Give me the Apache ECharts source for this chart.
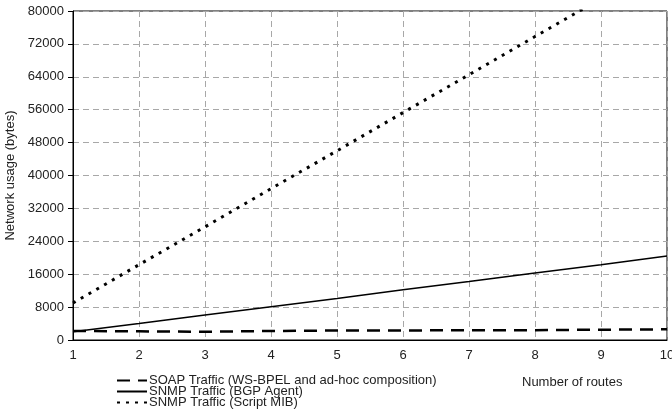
<!DOCTYPE html>
<html>
<head>
<meta charset="utf-8">
<script src="https://cdn.jsdelivr.net/npm/echarts@6/dist/echarts.min.js"></script>
<style>
  html, body { margin: 0; padding: 0; background: #fff; }
  #chart { width: 672px; height: 412px; }
</style>
</head>
<body>
<div id="chart"></div>
<script>
// Number of routes on the x axis
const routes = [1, 2, 3, 4, 5, 6, 7, 8, 9, 10];
// Network usage in bytes per traffic type
const soapTraffic = [2200, 2100, 2000, 2200, 2300, 2300, 2400, 2400, 2500, 2600];
const snmpBgpTraffic = [2000, 4000, 6100, 8100, 10100, 12200, 14200, 16300, 18300, 20400];
const snmpScriptTraffic = [9000, 18300, 27500, 36800, 46000, 55300, 64500, 73800, 83000, 92300];

const seriesNames = [
  'SOAP Traffic (WS-BPEL and ad-hoc composition)',
  'SNMP Traffic (BGP Agent)',
  'SNMP Traffic (Script MIB)'
];

const pairs = vals => routes.map((r, i) => [r, vals[i]]);
const font = 'Liberation Sans, Arial, sans-serif';
const fontSize = 13;
const textColor = '#222';

// one legend row per series, stacked under the x axis
const legendRows = seriesNames.map((name, i) => ({
  orient: 'vertical',
  left: 116, top: 374 + i * 11,
  padding: 0,
  itemWidth: 30, itemHeight: 8, itemGap: 0,
  itemStyle: { opacity: 0 },
  textStyle: { fontFamily: font, fontSize: fontSize, color: textColor, padding: [0, 0, 0, -3] },
  data: [name]
}));

const chart = echarts.init(document.getElementById('chart'), null, { renderer: 'canvas' });
chart.setOption({
  animation: false,
  backgroundColor: '#fff',
  grid: {
    left: 73, right: 5, top: 11, bottom: 72,
    outerBoundsMode: 'none',
    containLabel: false,
    show: true, borderColor: '#000', borderWidth: 1
  },
  legend: legendRows,
  xAxis: {
    type: 'value', min: 1, max: 10, interval: 1,
    axisLine: { show: true, lineStyle: { color: '#000', width: 1 } },
    axisTick: { show: false },
    axisLabel: { fontFamily: font, fontSize: fontSize, color: textColor, margin: 9 },
    splitLine: { show: true, lineStyle: { color: '#a8a8a8', type: [6, 4], width: 1 } }
  },
  yAxis: {
    type: 'value', min: 0, max: 80000, interval: 8000,
    name: 'Network usage (bytes)',
    nameLocation: 'middle', nameGap: 55,
    nameTextStyle: { fontFamily: font, fontSize: fontSize, color: textColor },
    axisLine: { show: true, lineStyle: { color: '#000', width: 1 } },
    axisTick: { show: true, inside: false, length: 5, lineStyle: { color: '#000' } },
    axisLabel: { fontFamily: font, fontSize: fontSize, color: textColor, margin: 9, formatter: v => String(v) },
    splitLine: { show: true, lineStyle: { color: '#a8a8a8', type: [6, 4], width: 1 } }
  },
  graphic: [
    {
      type: 'text', left: 522, top: 376,
      style: { text: 'Number of routes', font: fontSize + 'px ' + font, fill: textColor }
    }
  ],
  series: [
    {
      name: seriesNames[0], type: 'line', data: pairs(soapTraffic),
      symbol: 'none', clip: true,
      lineStyle: { color: '#000', width: 2.5, type: [13, 8] },
      itemStyle: { color: '#000' }
    },
    {
      name: seriesNames[1], type: 'line', data: pairs(snmpBgpTraffic),
      symbol: 'none', clip: true,
      lineStyle: { color: '#000', width: 1.5, type: 'solid' },
      itemStyle: { color: '#000' }
    },
    {
      name: seriesNames[2], type: 'line', data: pairs(snmpScriptTraffic),
      symbol: 'none', clip: true,
      lineStyle: { color: '#000', width: 3, type: [3, 6] },
      itemStyle: { color: '#000' }
    }
  ]
});
</script>
</body>
</html>
